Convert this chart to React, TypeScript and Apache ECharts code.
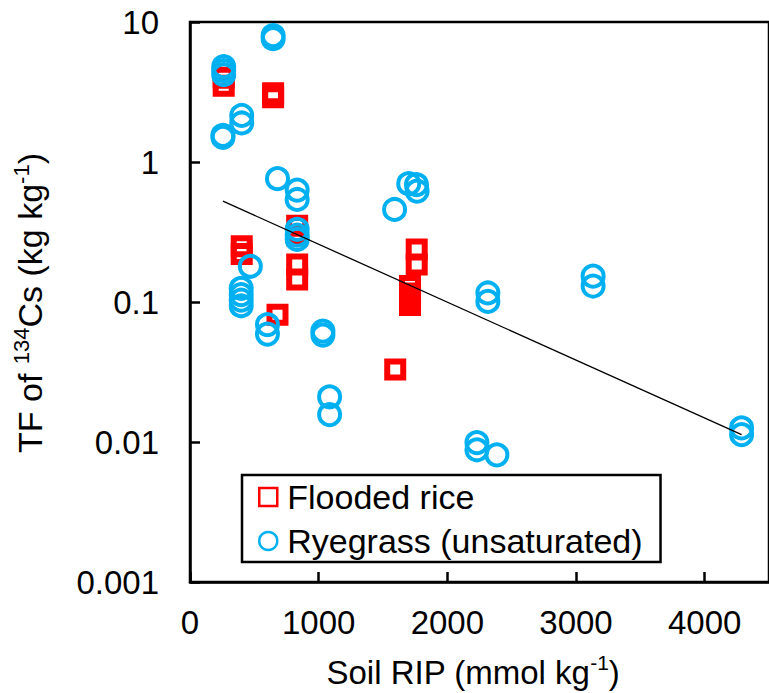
import React, { useEffect, useRef } from "react";
import * as echarts from "echarts";

// Flooded rice (x: Soil RIP, y: TF)
const riceX = [262, 262, 646, 646, 402, 402, 833, 833, 833, 833, 680, 1595, 1762, 1762, 1710, 1710, 1710, 1710];
const riceY = [4.0, 3.5, 3.1, 2.9, 0.25, 0.22, 0.35, 0.3, 0.185, 0.145, 0.081, 0.033, 0.237, 0.185, 0.13, 0.115, 0.105, 0.095];

// Ryegrass (unsaturated)
const ryeX = [646, 646, 262, 262, 262, 402, 402, 256, 256, 680, 833, 833, 833, 833, 833, 469, 398, 398, 398, 398, 602, 602, 1033, 1033, 1085, 1085, 1590, 1700, 1760, 1765, 2230, 2230, 2385, 2315, 2315, 3133, 3133, 4287, 4287];
const ryeY = [8.0, 7.6, 4.8, 4.5, 4.2, 2.15, 1.9, 1.55, 1.5, 0.76, 0.63, 0.54, 0.33, 0.3, 0.28, 0.18, 0.125, 0.113, 0.103, 0.094, 0.069, 0.059, 0.062, 0.058, 0.021, 0.0157, 0.458, 0.7, 0.69, 0.62, 0.0099, 0.0088, 0.0081, 0.116, 0.101, 0.153, 0.13, 0.0126, 0.0113];

// Trend line end points
const trendX = [256, 4287];
const trendY = [0.525, 0.0113];

const xTickValues = [0, 1000, 2000, 3000, 4000];
const xTickLabels = ["0", "1000", "2000", "3000", "4000"];
const yTickValues = [0.001, 0.01, 0.1, 1, 10];
const yTickLabels = ["0.001", "0.01", "0.1", "1", "10"];

const seriesNames = ["Flooded rice", "Ryegrass (unsaturated)"];

const FONT = "'Liberation Sans', Arial, sans-serif";
const RED = "#FF0000";
const BLUE = "#00B0F0";

export default function App() {
  const ref = useRef<HTMLDivElement>(null);

  useEffect(() => {
    if (!ref.current) return;
    const chart = echarts.init(ref.current, undefined, { renderer: "svg" });

    const rice = riceX.map((x, i) => [x, riceY[i]]);
    const rye = ryeX.map((x, i) => [x, ryeY[i]]);
    const trend = trendX.map((x, i) => [x, trendY[i]]);

    const xFmt = (v: number) => {
      const i = xTickValues.indexOf(v);
      return i >= 0 ? xTickLabels[i] : "";
    };
    const yFmt = (v: number) => {
      const i = yTickValues.findIndex((t) => Math.abs(Math.log10(t) - Math.log10(v)) < 1e-6);
      return i >= 0 ? yTickLabels[i] : "";
    };

    chart.setOption({
      animation: false,
      backgroundColor: "#fff",
      grid: {
        left: 190,
        top: 22,
        bottom: 111,
        right: -6,
        show: true,
        borderColor: "#000",
        borderWidth: 2.5,
        backgroundColor: "transparent",
      },
      xAxis: {
        type: "value",
        min: 0,
        max: 4500,
        interval: 1000,
        axisLine: { show: true, lineStyle: { color: "#000", width: 2.5 } },
        axisTick: { show: true, inside: true, length: 10, lineStyle: { color: "#000", width: 2.5 } },
        axisLabel: {
          show: true,
          margin: 24,
          fontSize: 33,
          fontFamily: FONT,
          color: "#000",
          showMaxLabel: false,
          formatter: xFmt,
        },
        splitLine: { show: false },
      },
      yAxis: {
        type: "log",
        logBase: 10,
        min: 0.001,
        max: 10,
        axisLine: { show: true, lineStyle: { color: "#000", width: 2.5 } },
        axisTick: { show: true, inside: true, length: 10, lineStyle: { color: "#000", width: 2.5 } },
        minorTick: { show: false },
        axisLabel: {
          show: true,
          margin: 31,
          fontSize: 33,
          fontFamily: FONT,
          color: "#000",
          formatter: yFmt,
        },
        splitLine: { show: false },
      },
      legend: {
        orient: "vertical",
        left: 242,
        top: 475,
        padding: [5, 18, 4, 16],
        itemGap: 10,
        itemWidth: 18,
        itemHeight: 18,
        borderColor: "#000",
        borderWidth: 2.5,
        backgroundColor: "#fff",
        textStyle: { fontSize: 34, color: "#000", fontFamily: FONT, padding: [0, 0, 0, 5] },
        data: [
          {
            name: seriesNames[0],
            icon: "rect",
            itemStyle: { color: "rgba(0,0,0,0)", borderColor: RED, borderWidth: 2.5 },
          },
          {
            name: seriesNames[1],
            icon: "circle",
            itemStyle: { color: "rgba(0,0,0,0)", borderColor: BLUE, borderWidth: 2.5 },
          },
        ],
      },
      series: [
        {
          name: seriesNames[0],
          type: "scatter",
          symbol: "rect",
          symbolSize: [16, 16],
          itemStyle: { color: "rgba(0,0,0,0)", borderColor: RED, borderWidth: 6, opacity: 1 },
          data: rice,
          z: 2,
        },
        {
          name: seriesNames[1],
          type: "scatter",
          symbol: "circle",
          symbolSize: 21,
          itemStyle: { color: "rgba(0,0,0,0)", borderColor: BLUE, borderWidth: 4, opacity: 1 },
          data: rye,
          z: 3,
        },
        {
          name: "trend",
          type: "line",
          showSymbol: false,
          symbol: "none",
          lineStyle: { color: "#000", width: 1.3 },
          data: trend,
          z: 4,
          silent: true,
        },
      ],
      graphic: [
        {
          type: "text",
          x: 473,
          y: 672,
          style: {
            text: "{n|Soil RIP (mmol kg}{s|-1}{n|)}",
            align: "center",
            verticalAlign: "middle",
            textAlign: "center",
            textVerticalAlign: "middle",
            rich: {
              n: { fontSize: 33, fontFamily: FONT, fill: "#000", color: "#000", lineHeight: 40 },
              s: { fontSize: 21, fontFamily: FONT, fill: "#000", color: "#000", verticalAlign: "top" },
            },
          },
        },
        {
          type: "text",
          x: 30,
          y: 303,
          rotation: Math.PI / 2,
          style: {
            text: "{n|TF of }{s|134}{n|Cs (kg kg}{s|-1}{n|)}",
            align: "center",
            verticalAlign: "middle",
            textAlign: "center",
            textVerticalAlign: "middle",
            rich: {
              n: { fontSize: 34, fontFamily: FONT, fill: "#000", color: "#000", lineHeight: 40 },
              s: { fontSize: 22, fontFamily: FONT, fill: "#000", color: "#000", verticalAlign: "top" },
            },
          },
        },
      ],
    });

    return () => chart.dispose();
  }, []);

  return (
    <div
      ref={ref}
      style={{ position: "absolute", left: 0, top: 0, width: 769, height: 693, background: "#fff" }}
    />
  );
}
